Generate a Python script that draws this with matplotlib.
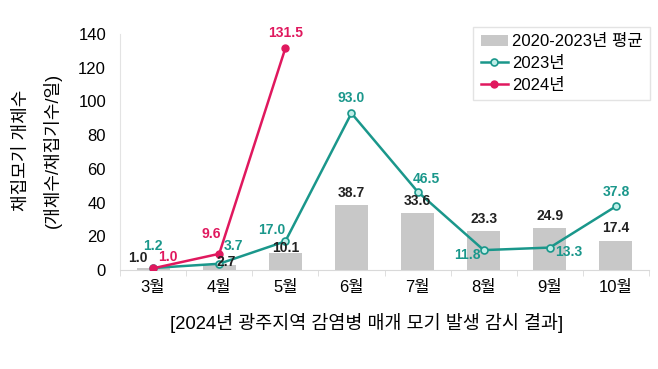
import numpy as np
import matplotlib.pyplot as plt

plt.rcParams['font.family'] = ['Liberation Sans', 'Noto Sans CJK KR', 'DejaVu Sans']

months = ['3월', '4월', '5월', '6월', '7월', '8월', '9월', '10월']
avg_2020_2023 = [1.0, 2.7, 10.1, 38.7, 33.6, 23.3, 24.9, 17.4]
y2023 = [1.2, 3.7, 17.0, 93.0, 46.5, 11.8, 13.3, 37.8]
y2024 = [1.0, 9.6, 131.5]

# label offsets in pixels (dx, dy)
off_avg = [(-15, 10), (7, 3), (0, 5), (0, 12), (0, 12), (0, 12), (0, 12), (0, 13)]
off_23 = [(0, 22), (14, 18), (-14, 11), (0, 15), (9, 13), (-16, -5), (19, -4), (0, 14)]
off_24 = [(15, 11), (-8, 20), (0, 15)]

teal = '#1a978b'
pink = '#e0185e'

fig = plt.figure(figsize=(6.58, 3.69), dpi=100)
ax = fig.add_axes([120/658, 99/369, 529/658, 236/369])

x = np.arange(len(months))
ax.bar(x, avg_2020_2023, width=0.5, color='#c8c8c8', label='2020-2023년 평균', zorder=1)
ax.plot(x, y2023, '-o', color=teal, lw=1.8, ms=5, mfc='#bfeee8', mec=teal, mew=1.2,
        label='2023년', zorder=3)
ax.plot(x[:len(y2024)], y2024, '-o', color=pink, lw=1.8, ms=5, mfc=pink, mec=pink,
        label='2024년', zorder=4)

for i, v in enumerate(avg_2020_2023):
    ax.annotate(f'{v:.1f}', (x[i], v), xytext=off_avg[i], textcoords='offset pixels',
                ha='center', va='center', fontsize=10, fontweight='bold', color='#222222', zorder=5)
for i, v in enumerate(y2023):
    ax.annotate(f'{v:.1f}', (x[i], v), xytext=off_23[i], textcoords='offset pixels',
                ha='center', va='center', fontsize=10, fontweight='bold', color=teal, zorder=5)
for i, v in enumerate(y2024):
    ax.annotate(f'{v:.1f}', (x[i], v), xytext=off_24[i], textcoords='offset pixels',
                ha='center', va='center', fontsize=10, fontweight='bold', color=pink, zorder=5)

ax.set_xlim(-0.5, len(months) - 0.5)
ax.set_ylim(0, 140)
ax.set_yticks(range(0, 141, 20))
ax.set_xticks(x)
ax.set_xticklabels(months)
ax.set_xticks(np.arange(-0.5, len(months)), minor=True)
ax.tick_params(axis='x', which='major', length=0, pad=7, labelsize=12)
ax.tick_params(axis='x', which='minor', length=4, color='#d9d9d9', direction='out')
ax.tick_params(axis='y', length=0, pad=10, labelsize=12)
for s in ['top', 'right']:
    ax.spines[s].set_visible(False)
ax.spines['left'].set_color('#e3e3e3')
ax.spines['bottom'].set_color('#d9d9d9')

fig.text(21/658, 1 - 150/369, '채집모기 개체수', rotation=90, ha='center', va='center', fontsize=13)
fig.text(52/658, 1 - 150/369, '(개체수/채집기수/일)', rotation=90, ha='center', va='center', fontsize=13)
fig.text(367/658, 1 - 323/369, '[2024년 광주지역 감염병 매개 모기 발생 감시 결과]',
         ha='center', va='center', fontsize=13.3)

handles, labels = ax.get_legend_handles_labels()
order = [2, 0, 1]
leg = ax.legend([handles[i] for i in order], [labels[i] for i in order],
                loc='upper right', bbox_to_anchor=(1.002, 1.03), fontsize=12, frameon=True,
                fancybox=False, edgecolor='#dddddd', handlelength=1.6, handletextpad=0.25,
                borderpad=0.45, labelspacing=0.4, borderaxespad=0)
leg.get_frame().set_linewidth(1.0)

fig.savefig('out.png', dpi=100)
